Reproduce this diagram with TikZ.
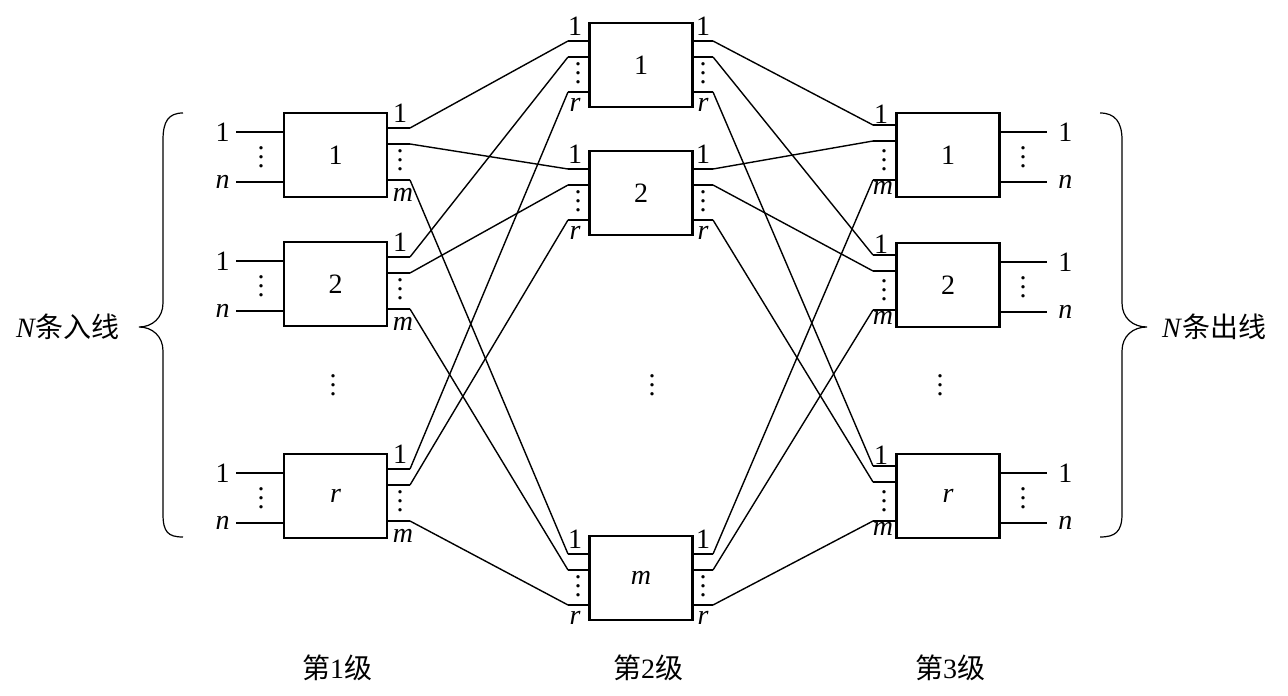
\documentclass[tikz,border=0pt]{standalone}
\usepackage{fontspec}
\setmainfont{Liberation Serif}
\newfontfamily\cjk{Noto Sans CJK SC}
\newcommand\myvdots{\vbox{\baselineskip4.6pt\lineskiplimit0pt\hbox{.}\hbox{.}\hbox{.}}}
\begin{document}
\begin{tikzpicture}[x=0.5pt,y=-0.5pt,font=\fontsize{14}{16}\selectfont,
  swbox/.style={draw,line width=1.3pt,minimum width=51.5pt,minimum height=42pt,inner sep=0pt},
  wire/.style={line width=0.7pt},
  lbl/.style={inner sep=0pt},
  dts/.style={inner sep=0pt}]
\useasboundingbox (0,0) rectangle (1288,695);

% ---------- stage 1 ----------
\foreach \i/\T/\t in {1/113/1,2/242/2,3/454/\textit{r}}{
  \node[swbox] (a\i) at (335.5,\T+42) {\t};
  \coordinate (ain\i-1) at (236,\T+19);
  \coordinate (ain\i-2) at (236,\T+69);
  \draw[wire] (ain\i-1) -- (a\i.west |- ain\i-1);
  \draw[wire] (ain\i-2) -- (a\i.west |- ain\i-2);
  \node[lbl,anchor=east] (ainl\i-1) at (230,\T+19) {1};
  \node[lbl,anchor=east] (ainl\i-2) at (230,\T+69) {\textit{n}};
  \node[dts] (aind\i) at (261,\T+44) {\myvdots};
  \foreach \j/\o in {1/15,2/31,3/67}{
    \coordinate (ao\i-\j) at (410,\T+\o);
    \draw[wire] (a\i.east |- ao\i-\j) -- (ao\i-\j);
  }
  \node[lbl] (aol\i-1) at (400,\T+0) {1};
  \node[lbl] (aol\i-3) at (403,\T+82) {\textit{m}};
  \node[dts] (aod\i) at (400,\T+47) {\myvdots};
}

% ---------- stage 2 ----------
\foreach \j/\T/\t in {1/23/1,2/151/2,3/536/\textit{m}}{
  \node[swbox] (b\j) at (641,\T+42) {\t};
  \foreach \k/\o in {1/18,2/34,3/69}{
    \coordinate (bi\j-\k) at (568,\T+\o);
    \coordinate (bo\j-\k) at (713,\T+\o);
    \draw[wire] (bi\j-\k) -- (b\j.west |- bi\j-\k);
    \draw[wire] (b\j.east |- bo\j-\k) -- (bo\j-\k);
  }
  \node[lbl] (bil\j-1) at (575,\T+3) {1};
  \node[lbl] (bil\j-3) at (575,\T+82) {\textit{r}};
  \node[lbl] (bol\j-1) at (703,\T+3) {1};
  \node[lbl] (bol\j-3) at (703,\T+82) {\textit{r}};
  \node[dts] (bid\j) at (578,\T+50) {\myvdots};
  \node[dts] (bod\j) at (703,\T+50) {\myvdots};
}

% ---------- stage 3 ----------
\foreach \k/\T/\t in {1/113/1,2/243/2,3/454/\textit{r}}{
  \node[swbox] (c\k) at (948,\T+42) {\t};
  \foreach \j/\o in {1/12,2/28,3/67}{
    \coordinate (ci\k-\j) at (873,\T+\o);
    \draw[wire] (ci\k-\j) -- (c\k.west |- ci\k-\j);
  }
  \node[lbl] (cil\k-1) at (881,\T+1) {1};
  \node[lbl] (cil\k-3) at (883,\T+75) {\textit{m}};
  \node[dts] (cid\k) at (884,\T+47) {\myvdots};
  \coordinate (cout\k-1) at (1047,\T+19);
  \coordinate (cout\k-2) at (1047,\T+69);
  \draw[wire] (c\k.east |- cout\k-1) -- (cout\k-1);
  \draw[wire] (c\k.east |- cout\k-2) -- (cout\k-2);
  \node[lbl,anchor=west] (coutl\k-1) at (1058,\T+19) {1};
  \node[lbl,anchor=west] (coutl\k-2) at (1058,\T+69) {\textit{n}};
  \node[dts] (cod\k) at (1023,\T+44) {\myvdots};
}

% ---------- interconnections ----------
\foreach \i in {1,2,3}{
  \foreach \j in {1,2,3}{
    \draw[wire] (ao\i-\j) -- (bi\j-\i);
    \draw[wire] (bo\i-\j) -- (ci\j-\i);
  }
}

% ---------- middle ellipses ----------
\node[dts] (md1) at (333,385) {\myvdots};
\node[dts] (md2) at (652,385) {\myvdots};
\node[dts] (md3) at (940,385) {\myvdots};

% ---------- braces ----------
\draw[line width=0.6pt] (183,113) .. controls (168,113) and (163,122) .. (163,140)
  -- (163,303) .. controls (163,318) and (152,327) .. (139,327)
  .. controls (152,327) and (163,336) .. (163,351)
  -- (163,514) .. controls (163,532) and (168,537) .. (183,537);
\draw[line width=0.6pt] (1100,113) .. controls (1115,113) and (1122,122) .. (1122,140)
  -- (1122,303) .. controls (1122,318) and (1133,327) .. (1147,327)
  .. controls (1133,327) and (1122,336) .. (1122,351)
  -- (1122,514) .. controls (1122,532) and (1115,537) .. (1100,537);
\node[lbl] (inlab) at (68,327) {\textit{N}{\cjk 条入线}};
\node[lbl] (outlab) at (1214,327) {\textit{N}{\cjk 条出线}};

% ---------- stage labels ----------
\node[lbl] (st1) at (337,668) {{\cjk 第}1{\cjk 级}};
\node[lbl] (st2) at (648,668) {{\cjk 第}2{\cjk 级}};
\node[lbl] (st3) at (950,668) {{\cjk 第}3{\cjk 级}};
\end{tikzpicture}
\end{document}
